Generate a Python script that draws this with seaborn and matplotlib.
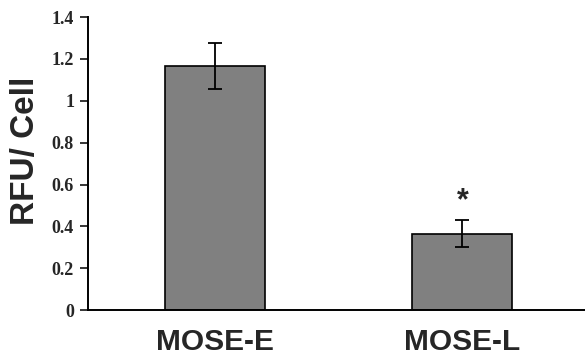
import matplotlib
matplotlib.use("Agg")
import matplotlib.pyplot as plt
import seaborn as sns
import pandas as pd

# values
groups = ["MOSE-E", "MOSE-L"]
rfu_per_cell = [1.165, 0.365]
sem = [0.11, 0.065]
yticks = [0, 0.2, 0.4, 0.6, 0.8, 1, 1.2, 1.4]
ytick_labels = ["0", "0.2", "0.4", "0.6", "0.8", "1", "1.2", "1.4"]

sns.set_style("white")

df = pd.DataFrame({"group": groups, "rfu": rfu_per_cell})

fig = plt.figure(figsize=(5.85, 3.56), dpi=100)
ax = fig.add_axes([0.1504, 0.129, 0.8496, 0.823])

sns.barplot(data=df, x="group", y="rfu", order=groups, color="#808080",
            saturation=1, width=0.404, edgecolor="black", linewidth=1.2,
            errorbar=None, ax=ax)

ax.errorbar(x=range(len(groups)), y=rfu_per_cell, yerr=sem, fmt="none",
            ecolor="black", elinewidth=1.3, capsize=5, capthick=1.3)

# significance marker over MOSE-L
ax.text(1, rfu_per_cell[1] + sem[1] + 0.02, "*", ha="center", va="bottom",
        fontsize=22, fontweight="bold", family="Liberation Sans")

ax.set_xlim(-0.513, 1.495)
ax.set_ylim(0, 1.4)
ax.set_yticks(yticks)
ax.set_yticklabels(ytick_labels, family="Liberation Serif",
                   fontweight="bold", fontsize=13)
ax.set_xticks(range(len(groups)))
ax.set_xticklabels(groups, family="Liberation Sans", fontweight="bold",
                   fontsize=21.5)
ax.tick_params(axis="x", length=0, pad=13)
ax.tick_params(axis="y", direction="out", length=6, width=1.3, left=True, pad=4)

ax.set_xlabel("")
ax.set_ylabel("RFU/ Cell", family="Liberation Sans", fontweight="bold",
              fontsize=24)
ax.yaxis.set_label_coords(-0.094, 0.545)

sns.despine(ax=ax)
for side in ["left", "bottom"]:
    ax.spines[side].set_color("black")
    ax.spines[side].set_linewidth(1.4)

fig.savefig("out.png", dpi=100)
